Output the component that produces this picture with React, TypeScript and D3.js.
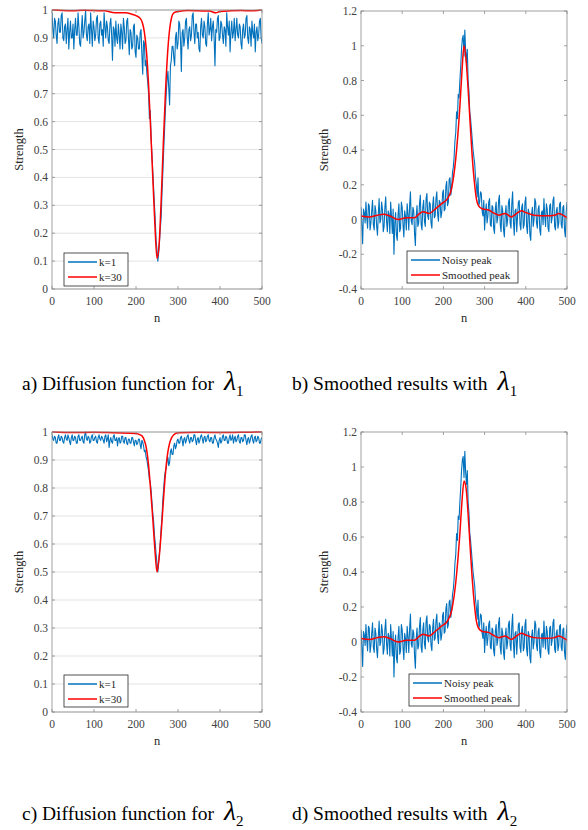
import * as d3 from 'd3'
import React from 'react'

// sample spacing for the noisy traces (n = 0, 2, 4, ... 500)
const noisyStep = 2

// a) diffusion function, k=1 (noisy)
const diffNoisyA = [
  0.99, 0.93, 0.90, 0.97, 0.96, 0.91, 0.88, 0.95, 0.97, 0.92,
  0.92, 0.98, 0.99, 0.90, 0.89, 0.94, 0.95, 0.88, 0.93, 0.97,
  0.86, 0.92, 0.96, 0.90, 0.90, 0.95, 0.86, 0.93, 0.97, 0.91,
  0.91, 0.99, 0.94, 0.88, 0.87, 0.93, 0.98, 0.90, 0.92, 0.96,
  1.0, 0.91, 0.89, 0.94, 0.95, 0.88, 0.99, 0.93, 0.87, 0.96,
  0.94, 0.89, 0.91, 0.97, 0.98, 0.90, 0.88, 0.95, 0.96, 0.91,
  0.93, 0.87, 0.99, 0.94, 0.90, 0.96, 0.94, 0.89, 0.88, 0.95,
  0.97, 0.91, 0.82, 0.94, 0.93, 0.87, 0.96, 0.90, 0.88, 0.95,
  0.91, 0.86, 0.95, 0.92, 0.86, 0.97, 0.94, 0.88, 0.89, 0.96,
  0.97, 0.90, 0.84, 0.93, 0.92, 0.86, 0.87, 0.94, 0.95, 0.85,
  0.83, 0.91, 0.90, 0.86, 0.86, 0.92, 0.93, 0.84, 0.77, 0.89,
  0.88, 0.80, 0.82, 0.77, 0.74, 0.70, 0.61, 0.64, 0.54, 0.48,
  0.42, 0.36, 0.30, 0.24, 0.17, 0.14, 0.10, 0.13, 0.17, 0.22,
  0.26, 0.35, 0.42, 0.50, 0.57, 0.64, 0.70, 0.75, 0.78, 0.72,
  0.66, 0.80, 0.82, 0.87, 0.87, 0.83, 0.80, 0.90, 0.92, 0.86,
  0.88, 0.96, 0.95, 0.89, 0.78, 0.92, 0.93, 0.87, 0.90, 0.96,
  0.97, 0.90, 0.86, 0.93, 0.94, 0.89, 0.91, 0.98, 0.99, 0.92,
  0.88, 0.95, 0.95, 0.90, 0.92, 0.86, 0.85, 0.94, 0.97, 0.91,
  0.90, 0.96, 0.94, 0.88, 0.87, 0.95, 0.99, 0.91, 0.93, 0.97,
  0.89, 0.94, 0.96, 0.90, 0.80, 0.93, 0.92, 0.97, 0.98, 0.89,
  0.90, 0.96, 0.95, 0.91, 0.88, 0.94, 0.93, 0.87, 0.99, 0.94,
  0.91, 0.96, 0.85, 0.92, 0.96, 0.90, 0.92, 0.97, 0.89, 0.93,
  0.97, 0.91, 0.90, 0.95, 0.94, 0.88, 0.86, 0.93, 0.95, 0.90,
  0.91, 0.97, 0.98, 0.90, 0.88, 0.94, 0.93, 0.87, 0.96, 0.92,
  0.90, 0.95, 0.85, 0.92, 0.94, 0.89, 0.91, 0.96, 0.97, 0.90,
  0.88
]

// a) diffusion function, k=30
const diffSmoothNA = [0, 25, 50, 75, 100, 125, 150, 175, 190, 200, 210, 215, 220, 225, 230, 235, 240, 245, 250,
  255, 260, 265, 270, 275, 280, 285, 290, 300, 325, 350, 375, 390, 400, 425, 450, 475, 500]
const diffSmoothA = [1.0, 0.998, 0.997, 0.999, 0.998, 0.997, 0.99, 0.99, 0.985, 0.98, 0.97, 0.955, 0.92, 0.85,
  0.73, 0.57, 0.40, 0.23, 0.11, 0.16, 0.32, 0.52, 0.70, 0.84, 0.93, 0.975, 0.99, 0.995, 0.998, 0.997,
  0.996, 0.99, 0.995, 0.997, 0.998, 0.997, 1.0]

// c) diffusion function, k=1 (noisy)
const diffNoisyC = [
  0.99, 0.975, 0.97, 0.985, 0.98, 0.96, 0.96, 0.98, 0.99, 0.97,
  0.97, 0.985, 0.98, 0.965, 0.96, 0.98, 0.99, 0.975, 0.97, 0.99,
  0.98, 0.965, 0.955, 0.98, 0.99, 0.97, 0.97, 0.985, 0.98, 0.96,
  0.96, 0.985, 0.99, 0.97, 0.97, 0.98, 0.985, 0.965, 0.96, 0.99,
  1.0, 0.975, 0.97, 0.985, 0.98, 0.96, 0.965, 0.985, 0.99, 0.97,
  0.97, 0.98, 0.985, 0.965, 0.96, 0.98, 0.99, 0.975, 0.97, 0.985,
  0.98, 0.97, 0.96, 0.985, 0.99, 0.965, 0.975, 0.99, 0.945, 0.97,
  0.98, 0.965, 0.96, 0.985, 0.99, 0.97, 0.97, 0.98, 0.95, 0.975,
  0.98, 0.96, 0.965, 0.985, 0.985, 0.965, 0.96, 0.98, 0.98, 0.96,
  0.955, 0.975, 0.975, 0.96, 0.96, 0.98, 0.98, 0.965, 0.95, 0.97,
  0.97, 0.955, 0.96, 0.975, 0.975, 0.955, 0.94, 0.97, 0.965, 0.95,
  0.93, 0.935, 0.91, 0.90, 0.88, 0.86, 0.83, 0.82, 0.79, 0.75,
  0.71, 0.68, 0.63, 0.60, 0.56, 0.53, 0.50, 0.54, 0.57, 0.61,
  0.66, 0.70, 0.76, 0.80, 0.84, 0.86, 0.87, 0.90, 0.91, 0.88,
  0.89, 0.93, 0.94, 0.92, 0.92, 0.95, 0.96, 0.94, 0.95, 0.97,
  0.975, 0.96, 0.96, 0.98, 0.985, 0.97, 0.95, 0.975, 0.98, 0.96,
  0.97, 0.985, 0.99, 0.97, 0.96, 0.98, 0.98, 0.965, 0.97, 0.99,
  0.99, 0.97, 0.955, 0.975, 0.98, 0.96, 0.97, 0.985, 0.99, 0.975,
  0.96, 0.98, 0.985, 0.965, 0.97, 0.985, 0.99, 0.97, 0.965, 0.98,
  0.98, 0.96, 0.96, 0.98, 0.99, 0.975, 0.97, 0.96, 0.945, 0.97,
  0.98, 0.96, 0.965, 0.985, 0.99, 0.97, 0.97, 0.985, 0.98, 0.96,
  0.96, 0.98, 0.99, 0.97, 0.975, 0.99, 0.96, 0.975, 0.985, 0.965,
  0.97, 0.985, 0.99, 0.965, 0.96, 0.98, 0.98, 0.965, 0.97, 0.99,
  0.99, 0.97, 0.955, 0.975, 0.98, 0.96, 0.97, 0.985, 0.99, 0.97,
  0.96, 0.98, 0.985, 0.965, 0.97, 0.985, 0.98, 0.96, 0.96, 0.975,
  0.98
]

// c) diffusion function, k=30
const diffSmoothNC = [0, 50, 100, 150, 200, 210, 215, 220, 225, 230, 235, 240, 245, 250, 255, 260, 265,
  270, 275, 280, 285, 290, 300, 350, 400, 450, 500]
const diffSmoothC = [1.0, 0.998, 0.999, 0.997, 0.995, 0.99, 0.985, 0.97, 0.94, 0.88, 0.79, 0.69, 0.58,
  0.50, 0.55, 0.64, 0.75, 0.85, 0.92, 0.96, 0.98, 0.99, 0.997, 0.999, 0.998, 0.999, 1.0]

// b) / d) noisy peak
const noisyPeak = [
  0.07, -0.03, -0.14, 0.06, 0.04, -0.02, 0.10, 0.01, -0.05, 0.09,
  0.08, -0.06, -0.02, 0.05, 0.11, -0.03, -0.06, 0.08, 0.05, -0.04,
  -0.09, 0.03, 0.12, -0.02, 0.0, 0.10, 0.06, -0.07, -0.04, 0.07,
  0.13, -0.01, -0.07, 0.05, 0.03, -0.08, 0.10, 0.02, -0.08, 0.06,
  -0.20, -0.02, 0.04, -0.09, -0.12, 0.03, 0.09, -0.07, -0.05, 0.10,
  0.07, -0.03, -0.10, 0.05, 0.02, -0.06, 0.09, 0.03, -0.06, 0.08,
  0.16, -0.01, -0.03, 0.07, 0.05, -0.08, -0.15, 0.02, 0.08, -0.04,
  -0.02, 0.09, 0.14, -0.03, -0.06, 0.07, 0.11, -0.01, -0.04, 0.12,
  0.15, 0.02, 0.0, 0.10, 0.09, -0.02, -0.05, 0.08, 0.13, 0.01,
  0.02, 0.12, 0.16, 0.03, -0.01, 0.11, 0.10, 0.01, 0.04, 0.15,
  0.17, 0.05, 0.06, 0.19, 0.22, 0.08, 0.10, 0.23, 0.24, 0.14,
  0.18, 0.27, 0.30, 0.36, 0.45, 0.50, 0.62, 0.58, 0.72, 0.70,
  0.80, 0.88, 0.98, 1.04, 1.06, 0.94, 1.09, 0.97, 0.90, 0.98,
  0.80, 0.74, 0.62, 0.58, 0.52, 0.46, 0.40, 0.36, 0.32, 0.24,
  0.20, 0.13, 0.24, 0.08, 0.10, 0.16, 0.15, 0.05, 0.02, 0.11,
  -0.06, 0.04, 0.09, -0.02, 0.02, 0.10, 0.12, -0.03, -0.04, 0.08,
  0.07, -0.05, -0.08, 0.06, 0.10, -0.02, 0.01, 0.11, 0.14, -0.03,
  -0.07, 0.08, 0.05, -0.06, -0.10, 0.03, 0.08, -0.04, 0.0, 0.10,
  0.12, -0.02, -0.05, 0.09, 0.16, -0.01, -0.09, 0.05, 0.06, -0.07,
  0.02, 0.10, 0.11, -0.03, -0.06, 0.07, 0.09, -0.05, -0.03, 0.10,
  0.13, -0.04, -0.08, 0.06, 0.04, -0.09, -0.12, 0.03, 0.07, -0.04,
  0.0, 0.12, 0.10, -0.02, -0.05, 0.06, 0.08, -0.06, -0.09, 0.04,
  0.05, -0.03, 0.12, 0.02, -0.04, 0.09, 0.06, -0.05, -0.07, 0.08,
  0.09, -0.02, 0.01, 0.11, 0.13, -0.04, -0.06, 0.05, 0.07, -0.05,
  -0.02, 0.09, 0.10, -0.03, -0.05, 0.07, 0.08, -0.06, -0.10, 0.04,
  0.10
]

// b) smoothed peak
const peakSmoothNB = [0, 20, 40, 55, 70, 90, 100, 110, 130, 140, 150, 165, 180, 195, 210, 220, 230, 240,
  245, 250, 255, 260, 265, 270, 275, 280, 285, 295, 310, 320, 335, 350, 365, 375, 390, 400, 420, 450,
  470, 480, 490, 500]
const peakSmoothB = [0.02, 0.015, 0.025, 0.03, 0.02, 0.0, 0.005, 0.01, 0.01, 0.03, 0.045, 0.035, 0.06,
  0.09, 0.12, 0.18, 0.35, 0.65, 0.85, 1.0, 0.92, 0.75, 0.55, 0.36, 0.22, 0.12, 0.08, 0.06, 0.055, 0.04,
  0.025, 0.035, 0.015, 0.03, 0.05, 0.04, 0.025, 0.022, 0.025, 0.035, 0.025, 0.01]

// d) smoothed peak
const peakSmoothD = [0.02, 0.015, 0.025, 0.03, 0.02, 0.0, 0.005, 0.01, 0.01, 0.03, 0.045, 0.035, 0.06,
  0.09, 0.12, 0.18, 0.34, 0.62, 0.80, 0.92, 0.88, 0.73, 0.54, 0.36, 0.22, 0.12, 0.08, 0.06, 0.055, 0.04,
  0.025, 0.035, 0.015, 0.03, 0.05, 0.04, 0.025, 0.022, 0.025, 0.035, 0.025, 0.01]

const xTicks = [0, 100, 200, 300, 400, 500]
const diffTicks = [0, 0.1, 0.2, 0.3, 0.4, 0.5, 0.6, 0.7, 0.8, 0.9, 1]
const peakTicks = [-0.4, -0.2, 0, 0.2, 0.4, 0.6, 0.8, 1, 1.2]
const diffLegend = ['k=1', 'k=30']
const peakLegend = ['Noisy peak', 'Smoothed peak']

const BLUE = '#0072BD'
const RED = '#FF0000'
const FONT = '"Liberation Serif", "Times New Roman", serif'

const noisyPts = (vals) => vals.map((v, i) => [i * noisyStep, v])
const pairPts = (ns, vals) => ns.map((n, i) => [n, vals[i]])

const Panel = ({ id, left, top, width, height, yDomain, yTicks, grid, noisy, smooth, legend, legendBox, ylabelX }) => {
  const x = d3.scaleLinear().domain([0, 500]).range([0, width])
  const y = d3.scaleLinear().domain(yDomain).range([height, 0])
  const line = d3.line().x(d => x(d[0])).y(d => y(d[1]))
  const smoothLine = d3.line().x(d => x(d[0])).y(d => y(d[1])).curve(d3.curveMonotoneX)
  const tk = 3
  const [lx, lyFromBottom, lw, lh] = legendBox
  const ly = height - lyFromBottom - lh

  return (
    <g transform={`translate(${left},${top})`} fontFamily={FONT}>
      <defs>
        <clipPath id={`clip-${id}`}>
          <rect x={0} y={-2} width={width} height={height + 4} />
        </clipPath>
      </defs>
      {grid && yTicks.map(t => (
        <line key={'g' + t} x1={0} x2={width} y1={y(t)} y2={y(t)} stroke="#dcdcdc" strokeWidth={0.8} />
      ))}
      <g clipPath={`url(#clip-${id})`}>
        <path d={line(noisy)} fill="none" stroke={BLUE} strokeWidth={1.1} strokeLinejoin="round" />
        <path d={smoothLine(smooth)} fill="none" stroke={RED} strokeWidth={1.5} strokeLinejoin="round" />
      </g>
      <rect x={0} y={0} width={width} height={height} fill="none" stroke="#8a8a8a" strokeWidth={0.8} />
      {xTicks.map(t => (
        <g key={'x' + t}>
          <line x1={x(t)} x2={x(t)} y1={height} y2={height - tk} stroke="#8a8a8a" strokeWidth={0.8} />
          <line x1={x(t)} x2={x(t)} y1={0} y2={tk} stroke="#8a8a8a" strokeWidth={0.8} />
          <text x={x(t)} y={height + 16} textAnchor="middle" fontSize={11.5} fill="#404040">{t}</text>
        </g>
      ))}
      {yTicks.map(t => (
        <g key={'y' + t}>
          <line x1={0} x2={tk} y1={y(t)} y2={y(t)} stroke="#8a8a8a" strokeWidth={0.8} />
          <line x1={width} x2={width - tk} y1={y(t)} y2={y(t)} stroke="#8a8a8a" strokeWidth={0.8} />
          <text x={-4} y={y(t) + 4} textAnchor="end" fontSize={11.5} fill="#404040">{String(+t.toFixed(1))}</text>
        </g>
      ))}
      <text x={width / 2} y={height + 33} textAnchor="middle" fontSize={12.5} fill="#262626">n</text>
      <text transform={`translate(${ylabelX},${height / 2}) rotate(-90)`} textAnchor="middle" fontSize={12.5}
        fill="#262626">Strength</text>
      <g transform={`translate(${lx},${ly})`}>
        <rect x={0} y={0} width={lw} height={lh} fill="#fff" stroke="#262626" strokeWidth={0.8} />
        {legend.map((name, i) => (
          <g key={name} transform={`translate(0,${9 + i * 15})`}>
            <line x1={4} x2={33} y1={0} y2={0} stroke={i === 0 ? BLUE : RED} strokeWidth={1.5} />
            <text x={35} y={4} fontSize={11} fill="#262626">{name}</text>
          </g>
        ))}
      </g>
    </g>
  )
}

const Caption = ({ x, y, label, sub }) => (
  <text x={x} y={y} fontFamily={FONT} fill="#000">
    <tspan fontSize={19.5}>{label}</tspan>
    <tspan fontSize={28} fontStyle="italic" dx={10}>λ</tspan>
    <tspan fontSize={15} dy={6}>{sub}</tspan>
  </text>
)

export default function App() {
  return (
    <svg width={588} height={830} style={{ position: 'absolute', left: 0, top: 0, background: '#fff' }}>
      <Panel id="a" left={52} top={10} width={210} height={279} yDomain={[0, 1]} yTicks={diffTicks} grid
        noisy={noisyPts(diffNoisyA)} smooth={pairPts(diffSmoothNA, diffSmoothA)}
        legend={diffLegend} legendBox={[12, 3, 64, 33]} ylabelX={-29} />
      <Panel id="b" left={361} top={11} width={206} height={278} yDomain={[-0.4, 1.2]} yTicks={peakTicks} grid={false}
        noisy={noisyPts(noisyPeak)} smooth={pairPts(peakSmoothNB, peakSmoothB)}
        legend={peakLegend} legendBox={[46, 6, 111, 32]} ylabelX={-33} />
      <Panel id="c" left={52} top={432} width={210} height={280} yDomain={[0, 1]} yTicks={diffTicks} grid
        noisy={noisyPts(diffNoisyC)} smooth={pairPts(diffSmoothNC, diffSmoothC)}
        legend={diffLegend} legendBox={[12, 5, 64, 32]} ylabelX={-29} />
      <Panel id="d" left={361} top={432} width={206} height={280} yDomain={[-0.4, 1.2]} yTicks={peakTicks} grid={false}
        noisy={noisyPts(noisyPeak)} smooth={pairPts(peakSmoothNB, peakSmoothD)}
        legend={peakLegend} legendBox={[48, 6, 110, 32]} ylabelX={-33} />
      <Caption x={22} y={390} label="a) Diffusion function for" sub="1" />
      <Caption x={292} y={390} label="b) Smoothed results with" sub="1" />
      <Caption x={22} y={820} label="c) Diffusion function for" sub="2" />
      <Caption x={292} y={820} label="d) Smoothed results with" sub="2" />
    </svg>
  )
}
